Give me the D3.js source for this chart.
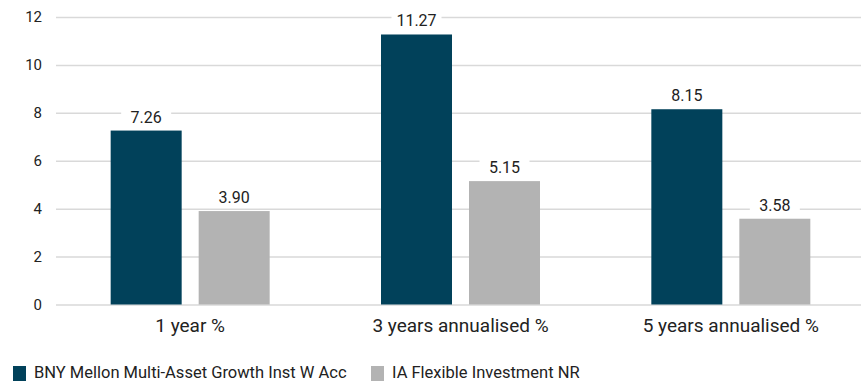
<!DOCTYPE html>
<html><head><meta charset="utf-8">
<script src="https://cdn.jsdelivr.net/npm/d3@7"></script>
<style>
html,body{margin:0;padding:0;background:#fff;}
svg{display:block;font-family:Roboto,"Noto Sans",sans-serif;}
</style></head>
<body><svg id="c" width="861" height="381"></svg>
<script>
const categories = ["1 year %", "3 years annualised %", "5 years annualised %"];
const seriesNames = ["BNY Mellon Multi-Asset Growth Inst W Acc", "IA Flexible Investment NR"];
const fundValues = [7.26, 11.27, 8.15];
const sectorValues = [3.90, 5.15, 3.58];
const yTicks = [0, 2, 4, 6, 8, 10, 12];
const colors = ["#01415a", "#b3b3b3"];

const svg = d3.select("#c");
const x0 = d3.scaleBand().domain(categories).range([55, 866]).padding(0);
const x1 = d3.scaleBand().domain(seriesNames).range([0, 159]).paddingInner(17/88).paddingOuter(0);
const y = d3.scaleLinear().domain([0, 12]).range([304.5, 17]);

// gridlines
const grid = svg.append("g").call(d3.axisLeft(y).tickValues(yTicks).tickSize(-(861-56)).tickFormat(""))
  .attr("transform","translate(56,0)");
grid.select(".domain").remove();
grid.selectAll("line").attr("stroke","#d9d9d9").attr("stroke-width",1.5);

// y tick labels
const yax = svg.append("g").attr("transform","translate(42,0)")
  .call(d3.axisLeft(y).tickValues(yTicks).tickSize(0).tickPadding(0).tickFormat(d3.format("d")));
yax.select(".domain").remove();
yax.selectAll("text").attr("font-size",15).attr("fill","#222").style("font-family","Roboto,sans-serif");

const data = categories.map((c,i)=>({cat:c, vals:[{s:seriesNames[0], v:fundValues[i]},{s:seriesNames[1], v:sectorValues[i]}]}));

const groups = svg.append("g").selectAll("g").data(data).join("g")
  .attr("transform", d => `translate(${x0(d.cat)+x0.bandwidth()/2-79.5},0)`);

groups.selectAll("rect").data(d=>d.vals).join("rect")
  .attr("x", d=>x1(d.s)).attr("width", x1.bandwidth())
  .attr("y", d=>y(d.v)).attr("height", d=>y(0)-y(d.v))
  .attr("fill", (d,i)=>colors[i]);

// value labels with white background
const lab = groups.selectAll("g.lab").data(d=>d.vals).join("g").attr("class","lab")
  .attr("transform", d=>`translate(${x1(d.s)+x1.bandwidth()/2},${y(d.v)-8})`);
lab.append("rect").attr("x",-25).attr("y",-17).attr("width",50).attr("height",22).attr("fill","#fff");
lab.append("text").attr("text-anchor","middle").attr("font-size",16).attr("fill","#222")
  .text(d=>d3.format(".2f")(d.v));

// category axis labels
svg.append("g").selectAll("text").data(categories).join("text")
  .attr("x", d=>x0(d)+x0.bandwidth()/2).attr("y", 331.5)
  .attr("text-anchor","middle").attr("font-size",19).attr("fill","#222").text(d=>d);

// legend
const legX = [13, 371];
const leg = svg.append("g").selectAll("g").data(seriesNames).join("g")
  .attr("transform",(d,i)=>`translate(${legX[i]},366)`);
leg.append("rect").attr("width",13).attr("height",15).attr("fill",(d,i)=>colors[i]);
leg.append("text").attr("x",21).attr("y",12).attr("font-size",16.5).attr("fill","#222").text(d=>d);
</script></body></html>
